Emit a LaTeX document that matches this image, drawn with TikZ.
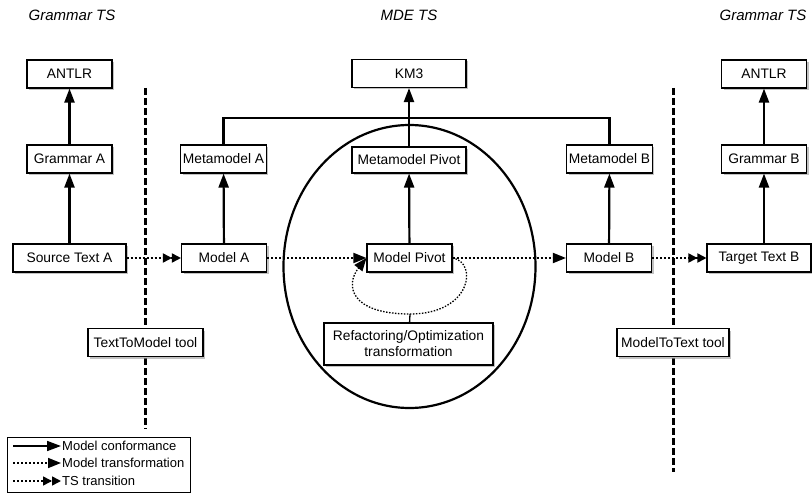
\documentclass[tikz,border=0pt]{standalone}
\usepackage{fontspec}
\setmainfont{Liberation Sans}
\usetikzlibrary{arrows.meta,shadows}

\begin{document}
\begin{tikzpicture}[x=1pt,y=-1pt,
  box/.style={draw,line width=1.1pt,fill=white,minimum width=85pt,minimum height=28pt,
    inner sep=2pt,font=\fontsize{13.8}{16}\selectfont,
    drop shadow={shadow xshift=2pt,shadow yshift=-2pt,fill=black!40,opacity=.6}},
  title/.style={font=\fontsize{15}{18}\selectfont\itshape},
  conform/.style={line width=2.2pt,-{Triangle[length=14pt,width=10pt]}},
  transfo/.style={line width=1.8pt,dash pattern=on 2pt off 2pt,
    -{Triangle[length=13pt,width=10pt]}},
  tstrans/.style={line width=1.8pt,dash pattern=on 2pt off 2pt,
    -{Triangle[length=9pt,width=9pt]Triangle[length=9pt,width=9pt]}},
  border/.style={line width=3pt,dash pattern=on 7pt off 3pt},
  legtext/.style={anchor=west,inner sep=1pt,font=\fontsize{13}{15}\selectfont}
]
\useasboundingbox (0,0) rectangle (812,495);

% technical spaces
\node[title] (gtsA) at (72,15) {Grammar TS};
\node[title] (mdets) at (409,15) {MDE TS};
\node[title] (gtsB) at (763,15) {Grammar TS};
\draw[border] (145,88) -- (145,429);
\draw[border] (673,88) -- (673,472);
\draw[line width=2.2pt] (409.5,266.5) ellipse [x radius=126pt,y radius=141.5pt];

% boxes
\node[box] (antlrA) at (69.5,74) {ANTLR};
\node[box] (gramA) at (69.5,159) {Grammar A};
\node[box,minimum width=113pt] (srcA) at (69.5,258) {Source Text A};
\node[box] (mmA) at (223.5,159) {Metamodel A};
\node[box] (modA) at (224,258) {Model A};
\node[box,minimum width=114pt] (km3) at (409,73.5) {KM3};
\node[box,minimum width=114pt,minimum height=26pt] (mmP) at (409,160) {Metamodel Pivot};
\node[box] (modP) at (409.5,258) {Model Pivot};
\node[box,minimum width=169pt,minimum height=42pt,align=center] (refac) at (408.5,344)
  {Refactoring/Optimization\\transformation};
\node[box] (mmB) at (609.5,159) {Metamodel B};
\node[box] (modB) at (609,258) {Model B};
\node[box] (antlrB) at (764,74) {ANTLR};
\node[box] (gramB) at (764,159) {Grammar B};
\node[box,minimum width=104pt] (tgtB) at (759,258) {Target Text B};
\node[box,minimum width=115pt] (t2m) at (145.5,342.5) {TextToModel tool};
\node[box,minimum width=112pt] (m2t) at (673,342.5) {ModelToText tool};

% conformance
\draw[conform] (gramA) -- (antlrA);
\draw[conform] (srcA) -- (gramA);
\draw[conform] (modA) -- (mmA);
\draw[conform] (modP) -- (mmP);
\draw[conform] (mmP) -- (km3);
\coordinate (junc) at (409,118);
\draw[line width=2.2pt] (mmA.north) |- (junc) -| (mmB.north);
\draw[conform] (modB) -- (mmB);
\draw[conform] (gramB) -- (antlrB);
\draw[conform] (tgtB.north -| gramB.south) -- (gramB.south);

% transformations
\draw[tstrans] (srcA) -- (modA);
\draw[transfo] (modA) -- (modP);
\draw[transfo] (modP) -- (modB);
\draw[tstrans] (modB) -- (tgtB);
\coordinate (loopbot) at (410,314);
\draw[line width=1.3pt,dash pattern=on 1.5pt off 1.5pt,-{Triangle[length=13pt,width=10pt]}]
  (modP.east) .. controls (478,262) and (472,314) .. (loopbot)
  .. controls (350,314) and (345,285) .. (modP.west);
\draw[line width=1.3pt] (refac) -- (loopbot);

% legend
\node[draw,line width=1pt,minimum width=183pt,minimum height=55pt] (legend) at (98.5,464.5) {};
\node[legtext] (lconf) at (61,446) {Model conformance};
\node[legtext] (ltrans) at (61,463) {Model transformation};
\node[legtext] (lts) at (61,481) {TS transition};
\coordinate (s1) at (13,446);
\coordinate (s2) at (13,463);
\coordinate (s3) at (13,481);
\draw[conform,line width=1.6pt] (s1) -- (lconf.west);
\draw[transfo,line width=1.6pt] (s2) -- (ltrans.west);
\draw[tstrans,line width=1.6pt] (s3) -- (lts.west);
\end{tikzpicture}
\end{document}
